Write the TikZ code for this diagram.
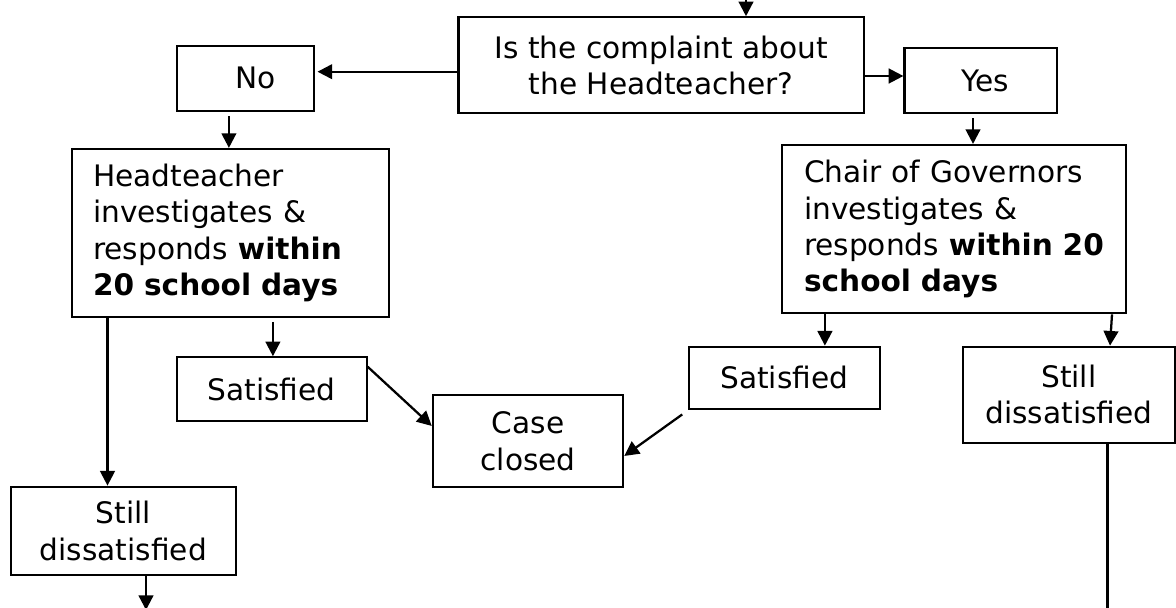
\documentclass[tikz,border=0pt]{standalone}
\usepackage{fontspec}
\setmainfont{DejaVu Sans}
\usetikzlibrary{arrows.meta}
\begin{document}
\begin{tikzpicture}[x=0.75pt,y=-0.75pt,
  box/.style={draw, line width=1.6pt, inner sep=0pt, font=\fontsize{22.2}{27.3}\selectfont, align=center},
  lbox/.style={box, align=left},
  arr/.style={line width=1.7pt, -{Triangle[length=11pt,width=11pt]}},
  ln/.style={line width=1.7pt}]
\clip (0,0) rectangle (1176,607);

\node[box, minimum width=304.1pt, minimum height=72pt] (Q) at (661.2,65.3) {Is the complaint about\\the Headteacher?};
\node[box, minimum width=102.75pt, minimum height=49pt] (No) at (245.3,78.4) {\hspace*{15pt}No};
\node[box, minimum width=114.5pt, minimum height=49.2pt] (Yes) at (980.8,80.5) {\hspace*{7pt}Yes};
\node[lbox, minimum width=238.2pt, minimum height=125.8pt, text width=206pt] (Head) at (230.4,232.85)
  {Headteacher\\investigates \&\\responds \textbf{within}\\\textbf{20 school days}};
\node[lbox, minimum width=258pt, minimum height=126.2pt, text width=225pt] (Chair) at (954,229.15)
  {Chair of Governors\\investigates \&\\responds \textbf{within 20}\\\textbf{school days}};
\node[box, minimum width=142.35pt, minimum height=47.55pt] (Sat1) at (271.7,389) {Satisfied};
\node[box, minimum width=142.8pt, minimum height=69.2pt] (Case) at (528,441.15) {Case\\closed};
\node[box, minimum width=143pt, minimum height=46.5pt] (Sat2) at (784.35,377.7) {Satisfied};
\node[box, minimum width=169pt, minimum height=66.45pt] (Still1) at (123.4,531) {Still\\dissatisfied};
\node[box, minimum width=159.2pt, minimum height=72pt] (Still2) at (1068.85,394.7) {Still\\dissatisfied};

\coordinate (t0) at (746,-15);
\draw[arr] (t0) -- (t0 |- Q.north);
\coordinate (ny) at (0,71.7);
\draw[arr, shorten >=2pt] (ny -| Q.west) -- (ny -| No.east);
\coordinate (yy) at (0,76);
\draw[arr] (yy -| Q.east) -- (yy -| Yes.west);
\coordinate (x1) at (228.9,0);
\draw[arr, shorten <=3pt] (x1 |- No.south) -- (x1 |- Head.north);
\coordinate (x2) at (973,0);
\draw[arr, shorten <=3pt] (x2 |- Yes.south) -- (x2 |- Chair.north);
\coordinate (x3) at (107.5,0);
\draw[arr] (x3 |- Head.south) -- (x3 |- Still1.north);
\coordinate (x4) at (272.9,0);
\draw[arr, shorten <=3pt] (x4 |- Head.south) -- (x4 |- Sat1.north);
\draw[arr] ([yshift=16.7pt]Sat1.east) -- ([yshift=11.4pt]Case.west);
\draw[arr] ([shift={(-4.3pt,-3.5pt)}]Sat2.south west) -- ([yshift=-11.1pt]Case.east);
\coordinate (x5) at (824.9,0);
\draw[arr] (x5 |- Chair.south) -- (x5 |- Sat2.north);
\coordinate (x6) at (1112,0);
\coordinate (x7) at (1110,0);
\draw[arr] (x6 |- Chair.south) -- (x7 |- Still2.north);
\coordinate (x8) at (1107.5,0);
\coordinate (e8) at (1107.5,620);
\draw[ln] (x8 |- Still2.south) -- (e8);
\coordinate (x9) at (146,0);
\coordinate (e9) at (146,610);
\draw[arr] (x9 |- Still1.south) -- (e9);
\end{tikzpicture}
\end{document}
